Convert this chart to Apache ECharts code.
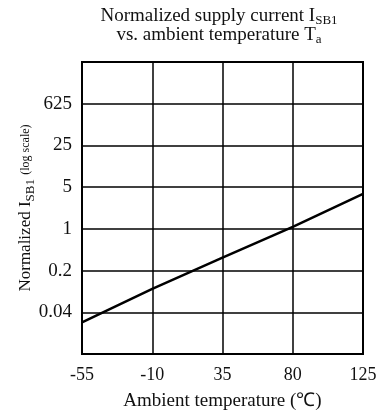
<!DOCTYPE html>
<html><head><meta charset="utf-8">
<script src="https://cdn.jsdelivr.net/npm/echarts@6/dist/echarts.min.js"></script>
<style>html,body{margin:0;padding:0;background:#fff}#c{width:383px;height:414px}</style>
</head><body><div id="c"></div>
<script>
var temperatures = [-55, -10, 35, 80, 125];
var currentValues = [0.027, 0.099, 0.33, 1.08, 3.85];
var xTickLabels = ['-55', '-10', '35', '80', '125'];
// y tick labels at exponents (base 5) -3 .. 4
var yTickExponents = [-3, -2, -1, 0, 1, 2, 3, 4];
var yTickLabels = ['', '0.04', '0.2', '1', '5', '25', '625', ''];

var font = 'Liberation Serif';
var chart = echarts.init(document.getElementById('c'));
chart.setOption({
  animation: false,
  backgroundColor: '#fff',
  title: {
    text: 'Normalized supply current I{sub|SB1}\nvs. ambient temperature T{sub|a}',
    left: 214, top: 2, textAlign: 'center',
    textStyle: {
      fontFamily: font, fontSize: 19, fontWeight: 'normal', color: '#111', lineHeight: 19,
      rich: { sub: { fontFamily: font, fontSize: 13, color: '#111', padding: [8, 0, 0, 0] } }
    }
  },
  grid: { left: 82, right: 20, top: 62, bottom: 60, show: true, borderColor: '#000', borderWidth: 2,
    backgroundColor: 'transparent', outerBoundsMode: 'none', containLabel: false },
  xAxis: {
    type: 'value', min: -55, max: 125, interval: 45,
    name: 'Ambient temperature (\u2103)', nameLocation: 'middle', nameGap: 38,
    nameTextStyle: { fontFamily: font, fontSize: 19, color: '#111' },
    axisLine: { show: false }, axisTick: { show: false },
    axisLabel: { fontFamily: font, fontSize: 18, color: '#111', margin: 12,
      formatter: function (v) { var i = temperatures.indexOf(Math.round(v)); return i >= 0 ? xTickLabels[i] : ''; } },
    splitLine: { show: true, lineStyle: { color: '#000', width: 1.5 } }
  },
  yAxis: {
    type: 'log', logBase: 5, min: 0.008, max: 625,
    name: 'Normalized I{sub|SB1} {small|(log scale)}', nameLocation: 'middle', nameGap: 45, nameRotate: 90,
    nameMoveOverlap: false,
    nameTextStyle: { fontFamily: font, fontSize: 17, color: '#111',
      rich: { sub: { fontFamily: font, fontSize: 13, padding: [9, 0, 0, 0] }, small: { fontFamily: font, fontSize: 12 } } },
    axisLine: { show: false }, axisTick: { show: false },
    axisLabel: { fontFamily: font, fontSize: 19, color: '#111', margin: 10,
      formatter: function (v) { var e = Math.round(Math.log(v) / Math.log(5)); var i = yTickExponents.indexOf(e); return i >= 0 ? yTickLabels[i] : ''; } },
    splitLine: { show: true, lineStyle: { color: '#000', width: 1.5 } }
  },
  series: [{
    type: 'line', data: temperatures.map(function (t, i) { return [t, currentValues[i]]; }),
    showSymbol: false, lineStyle: { color: '#000', width: 2.5 }
  }]
});
</script></body></html>
